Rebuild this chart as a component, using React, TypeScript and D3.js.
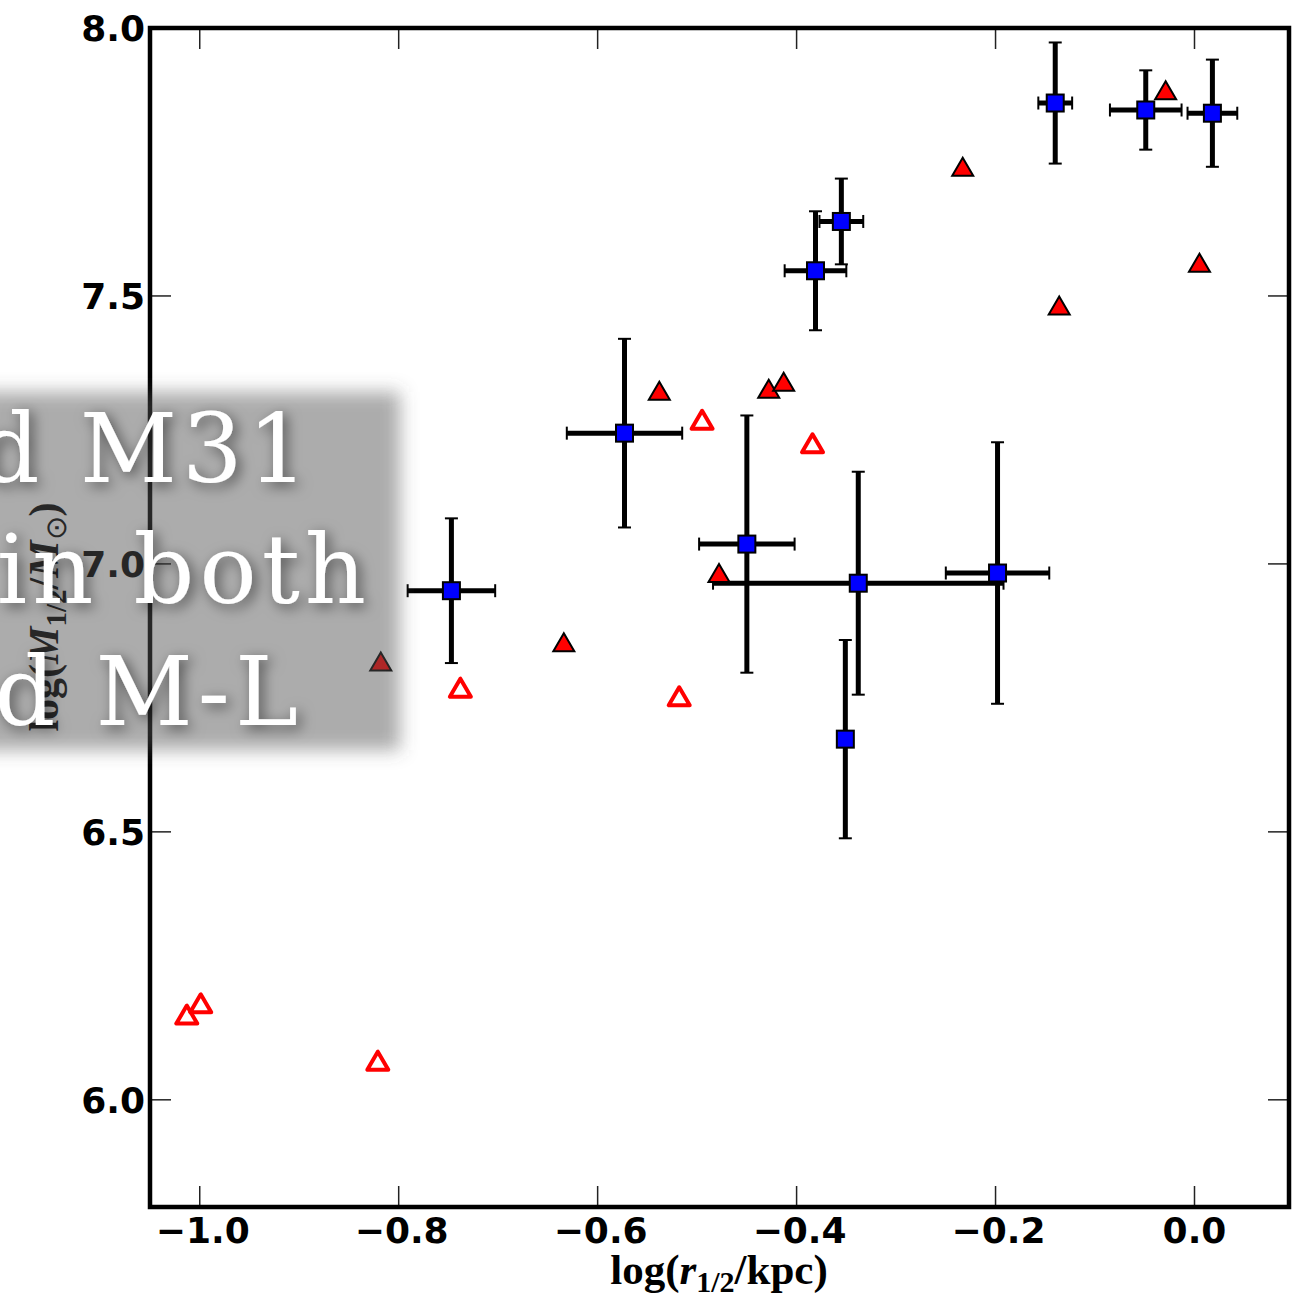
import React from "react";
import * as d3 from "d3";

const W = 1292;
const H = 1298;

const xTicks = [-1.0, -0.8, -0.6, -0.4, -0.2, 0.0];
const yTicks = [6.0, 6.5, 7.0, 7.5, 8.0];

// blue squares with error bars
const bx = [-0.747, -0.573, -0.45, -0.338, -0.198, -0.351, -0.381, -0.355, -0.14, -0.049, 0.018];
const by = [6.95, 7.244, 7.037, 6.964, 6.983, 6.673, 7.547, 7.639, 7.86, 7.847, 7.841];
const bxErr = [0.044, 0.058, 0.048, 0.146, 0.052, 0.0, 0.031, 0.022, 0.017, 0.036, 0.025];
const byErr = [0.135, 0.176, 0.24, 0.208, 0.244, 0.185, 0.111, 0.08, 0.113, 0.074, 0.1];

// filled red triangles
const fx = [-0.818, -0.634, -0.538, -0.428, -0.413, -0.478, -0.233, -0.136, -0.029, 0.005];
const fy = [6.818, 6.854, 7.323, 7.327, 7.34, 6.983, 7.741, 7.482, 7.884, 7.562];

// open red triangles
const ox = [-1.013, -0.999, -0.821, -0.738, -0.518, -0.495, -0.384];
const oy = [6.159, 6.18, 6.073, 6.769, 6.753, 7.269, 7.225];

// overlay slide text
const overlayLines = ["d M31", "in both", "d M-L"];
const overlayEnds = [313, 371, 303];
const overlayBaselines = [482, 603, 725];

const fmt = (v: number) => (v < 0 ? "\u2212" : "") + Math.abs(v).toFixed(1);

function tri(w: number, h: number) {
  const p = d3.path();
  p.moveTo(0, -h / 2);
  p.lineTo(-w / 2, h / 2);
  p.lineTo(w / 2, h / 2);
  p.closePath();
  return p.toString();
}

export default function App() {
  const left = 150, right = 1289, top = 28, bottom = 1207;
  const x = d3.scaleLinear().domain([-1.05, 0.095]).range([left, right]);
  const y = d3.scaleLinear().domain([5.8, 8.0]).range([bottom, top]);
  const triPath = tri(21, 18);
  const sq = 17;
  const cap = 6.5;
  const tickLen = 21;

  return (
    <svg width={W} height={H} style={{ position: "absolute", left: 0, top: 0, background: "#fff" }}>
      <defs>
        <filter id="boxblur" x="-20%" y="-20%" width="140%" height="140%">
          <feGaussianBlur stdDeviation="9" />
        </filter>
        <filter id="txtshadow" x="-20%" y="-30%" width="140%" height="160%">
          <feDropShadow dx="4" dy="4" stdDeviation="7" floodColor="#000" floodOpacity="0.55" />
        </filter>
        <clipPath id="plotclip">
          <rect x={left} y={top} width={right - left} height={bottom - top} />
        </clipPath>
      </defs>
      <rect x={0} y={0} width={W} height={H} fill="#fff" />

      {/* ticks */}
      <g stroke="#222" strokeWidth={1.5}>
        {xTicks.map((t) => (
          <g key={"xt" + t}>
            <line x1={x(t)} x2={x(t)} y1={bottom} y2={bottom - tickLen} />
            <line x1={x(t)} x2={x(t)} y1={top} y2={top + tickLen} />
          </g>
        ))}
        {yTicks.map((t) => (
          <g key={"yt" + t}>
            <line x1={left} x2={left + tickLen} y1={y(t)} y2={y(t)} />
            <line x1={right} x2={right - tickLen} y1={y(t)} y2={y(t)} />
          </g>
        ))}
      </g>

      {/* data */}
      <g clipPath="url(#plotclip)">
        <g stroke="#000">
          {bx.map((v, i) => {
            const cx = x(v), cy = y(by[i]);
            const x0 = x(v - bxErr[i]), x1 = x(v + bxErr[i]);
            const y0 = y(by[i] + byErr[i]), y1 = y(by[i] - byErr[i]);
            return (
              <g key={"eb" + i}>
                <line x1={cx} x2={cx} y1={y0} y2={y1} strokeWidth={5} />
                <line x1={cx - cap} x2={cx + cap} y1={y0} y2={y0} strokeWidth={2} />
                <line x1={cx - cap} x2={cx + cap} y1={y1} y2={y1} strokeWidth={2} />
                {bxErr[i] > 0 && (
                  <>
                    <line x1={x0} x2={x1} y1={cy} y2={cy} strokeWidth={5} />
                    <line x1={x0} x2={x0} y1={cy - cap} y2={cy + cap} strokeWidth={2} />
                    <line x1={x1} x2={x1} y1={cy - cap} y2={cy + cap} strokeWidth={2} />
                  </>
                )}
              </g>
            );
          })}
        </g>
        {bx.map((v, i) => (
          <rect
            key={"sq" + i}
            x={x(v) - sq / 2}
            y={y(by[i]) - sq / 2}
            width={sq}
            height={sq}
            fill="#0000ff"
            stroke="#000"
            strokeWidth={2}
          />
        ))}
        {fx.map((v, i) => (
          <path
            key={"ft" + i}
            d={triPath}
            transform={`translate(${x(v)},${y(fy[i])})`}
            fill="#ff0000"
            stroke="#000"
            strokeWidth={2}
            strokeLinejoin="miter"
          />
        ))}
        {ox.map((v, i) => (
          <path
            key={"ot" + i}
            d={triPath}
            transform={`translate(${x(v)},${y(oy[i])})`}
            fill="#fff"
            stroke="#ff0000"
            strokeWidth={4}
            strokeLinejoin="round"
          />
        ))}
      </g>

      {/* spines */}
      <rect x={left} y={top} width={right - left} height={bottom - top} fill="none" stroke="#000" strokeWidth={4.5} />

      {/* tick labels */}
      <g fontFamily="DejaVu Sans" fontWeight="bold" fontSize={36} fill="#000">
        {xTicks.map((t) => (
          <text key={"xl" + t} x={x(t) + (t < 0 ? 3 : 0)} y={1243} textAnchor="middle">
            {fmt(t)}
          </text>
        ))}
        {yTicks.map((t) => (
          <text key={"yl" + t} x={145} y={y(t) + 13} textAnchor="end">
            {fmt(t)}
          </text>
        ))}
      </g>

      {/* axis labels */}
      <text x={719} y={1284} textAnchor="middle" fontFamily="Liberation Serif" fontWeight="bold" fontSize={43} fill="#000">
        log(
        <tspan fontStyle="italic">r</tspan>
        <tspan fontSize={30} dy={8}>1/2</tspan>
        <tspan dy={-8}>/kpc)</tspan>
      </text>
      <text
        transform="translate(58,617) rotate(-90)"
        textAnchor="middle"
        fontFamily="Liberation Serif"
        fontWeight="bold"
        fontSize={42}
        fill="#000"
      >
        log(
        <tspan fontStyle="italic">M</tspan>
        <tspan fontSize={29} dy={8}>1/2</tspan>
        <tspan dy={-8}>/</tspan>
        <tspan fontStyle="italic">M</tspan>
        <tspan fontSize={29} fontWeight="normal" dy={8}>{"\u2299"}</tspan>
        <tspan dy={-8}>)</tspan>
      </text>

      {/* slide overlay */}
      <rect x={-60} y={392} width={460} height={358} fill="rgb(80,80,80)" fillOpacity={0.48} filter="url(#boxblur)" />
      <g filter="url(#txtshadow)" fontFamily="DejaVu Serif" fontSize={95} fill="#fff" letterSpacing={5}>
        {overlayLines.map((s, i) => (
          <text key={"ov" + i} x={overlayEnds[i]} y={overlayBaselines[i]} textAnchor="end">
            {s}
          </text>
        ))}
      </g>
    </svg>
  );
}
